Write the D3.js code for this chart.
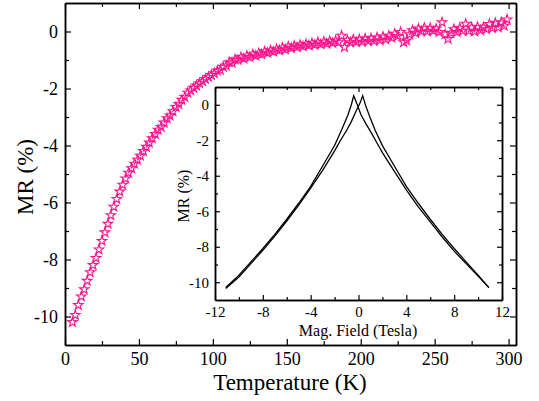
<!DOCTYPE html>
<html>
<head>
<meta charset="utf-8">
<script src="https://cdn.jsdelivr.net/npm/d3@7"></script>
<style>
body { margin: 0; background: #fff; }
</style>
</head>
<body>
<svg id="chart" width="539" height="401"></svg>
<script>
// MR vs temperature (main plot)
var temps = [5, 7, 9, 11, 13, 15, 17, 19, 21, 23, 25, 27, 29, 31, 33, 35, 37, 39, 41, 43,
	45, 47, 49, 51, 53, 55, 57, 59, 61, 63, 65, 67, 69, 71, 73, 75, 77, 79, 81, 83,
	85, 87, 89, 91, 93, 95, 97, 99, 101, 103, 105, 107, 109, 111, 113, 115, 117, 119, 121, 123,
	125, 127, 129, 131, 133, 135, 137, 139, 141, 143, 145, 147, 149, 151, 153, 155, 157, 159, 161, 163,
	165, 167, 169, 171, 173, 175, 177, 179, 181, 183, 185, 187, 189, 191, 193, 195, 197, 199, 201, 203,
	205, 207, 209, 211, 213, 215, 217, 219, 221, 223, 225, 227, 229, 231, 233, 235, 237, 239, 241, 243,
	245, 247, 249, 251, 253, 255, 257, 259, 261, 263, 265, 267, 269, 271, 273, 275, 277, 279, 281, 283,
	285, 287, 289, 291, 293, 295, 297, 299];
var mrTemp = [-10.2, -9.95, -9.6, -9.3, -9.05, -8.75, -8.45, -8.2, -7.95, -7.65, -7.35, -7.05, -6.75, -6.45, -6.15, -5.88, -5.62, -5.38, -5.16, -4.96,
	-4.8, -4.64, -4.5, -4.36, -4.2, -4.05, -3.9, -3.75, -3.6, -3.45, -3.35, -3.2, -3.05, -2.95, -2.8, -2.65, -2.55, -2.4, -2.3, -2.15,
	-2.07, -1.98, -1.9, -1.82, -1.75, -1.67, -1.6, -1.53, -1.47, -1.38, -1.35, -1.24, -1.2, -1.08, -1.1, -0.98, -1.0, -0.9, -0.95, -0.85,
	-0.9, -0.8, -0.85, -0.76, -0.8, -0.7, -0.75, -0.66, -0.71, -0.62, -0.66, -0.57, -0.63, -0.53, -0.58, -0.5, -0.55, -0.47, -0.52, -0.44,
	-0.49, -0.41, -0.47, -0.38, -0.45, -0.36, -0.43, -0.33, -0.4, -0.32, -0.38, -0.15, -0.55, -0.3, -0.38, -0.28, -0.37, -0.27, -0.36, -0.25,
	-0.34, -0.24, -0.33, -0.21, -0.31, -0.18, -0.28, -0.15, -0.22, -0.08, -0.16, -0.02, -0.38, -0.32, -0.1, 0.04, -0.05, 0.1, 0.0, 0.13,
	0.0, 0.12, 0.02, 0.1, -0.02, 0.32, -0.1, -0.26, -0.05, 0.08, -0.02, 0.12, 0.02, 0.27, 0.02, 0.14, 0.0, 0.16, 0.04, 0.15,
	0.08, 0.26, 0.12, 0.3, 0.14, 0.32, 0.2, 0.42];
var tempTicks = [0, 50, 100, 150, 200, 250, 300];
var tempMinor = [25, 75, 125, 175, 225, 275];
var mrTicks = [0, -2, -4, -6, -8, -10];
var mrMinor = [-1, -3, -5, -7, -9];

// MR vs field (inset), two sweep branches
var fieldA = [-11.1, -10, -9, -8, -7, -6, -5, -4, -3, -2, -1.4, -0.9, -0.6, -0.4, -0.1, 0.2, 0.6, 1, 1.5, 2, 3, 4, 5, 6, 7, 8, 9, 10, 10.9];
var mrA = [-10.3, -9.6, -8.85, -8.1, -7.3, -6.45, -5.55, -4.6, -3.45, -2.3, -1.4, -0.6, 0.0, 0.5, 0.0, -0.55, -1.05, -1.5, -2.1, -2.7, -3.75, -4.8, -5.75, -6.6, -7.45, -8.25, -8.95, -9.65, -10.3];
var fieldB = [-11.1, -10, -9, -8, -7, -6, -5, -4, -3, -2, -1.5, -1, -0.6, -0.2, 0.1, 0.35, 0.6, 0.9, 1.4, 2, 3, 4, 5, 6, 7, 8, 9, 10, 10.9];
var mrB = [-10.35, -9.7, -8.95, -8.2, -7.4, -6.55, -5.65, -4.7, -3.7, -2.6, -2.0, -1.45, -0.95, -0.35, 0.05, 0.5, -0.05, -0.6, -1.45, -2.3, -3.45, -4.6, -5.55, -6.45, -7.3, -8.1, -8.85, -9.6, -10.3];
var fieldTicks = [-12, -8, -4, 0, 4, 8, 12];
var fieldMinor = [-10, -6, -2, 2, 6, 10];
var insetTicks = [0, -2, -4, -6, -8, -10];
var insetMinor = [-1, -3, -5, -7, -9];

var serif = "'Liberation Serif', 'Times New Roman', serif";
var svg = d3.select("#chart");

function plain(d) {
	return String(d);
}

function frame(g, x, y, xt, xm, yt, ym, major, minor, fs, padX, padY) {
	var x0 = x.range()[0], x1 = x.range()[1];
	var y0 = y.range()[0], y1 = y.range()[1];

	g.append("g").attr("transform", "translate(0," + y0 + ")")
		.call(d3.axisBottom(x).tickValues(xt).tickSizeInner(-major).tickSizeOuter(0).tickPadding(padX).tickFormat(plain));
	g.append("g").attr("transform", "translate(0," + y0 + ")")
		.call(d3.axisBottom(x).tickValues(xm).tickSizeInner(-minor).tickSizeOuter(0).tickFormat(""));
	g.append("g").attr("transform", "translate(0," + y1 + ")")
		.call(d3.axisTop(x).tickValues(xt).tickSizeInner(-major).tickSizeOuter(0).tickFormat(""));
	g.append("g").attr("transform", "translate(0," + y1 + ")")
		.call(d3.axisTop(x).tickValues(xm).tickSizeInner(-minor).tickSizeOuter(0).tickFormat(""));

	g.append("g").attr("transform", "translate(" + x0 + ",0)")
		.call(d3.axisLeft(y).tickValues(yt).tickSizeInner(-major).tickSizeOuter(0).tickPadding(padY).tickFormat(plain));
	g.append("g").attr("transform", "translate(" + x0 + ",0)")
		.call(d3.axisLeft(y).tickValues(ym).tickSizeInner(-minor).tickSizeOuter(0).tickFormat(""));
	g.append("g").attr("transform", "translate(" + x1 + ",0)")
		.call(d3.axisRight(y).tickValues(yt).tickSizeInner(-major).tickSizeOuter(0).tickFormat(""));
	g.append("g").attr("transform", "translate(" + x1 + ",0)")
		.call(d3.axisRight(y).tickValues(ym).tickSizeInner(-minor).tickSizeOuter(0).tickFormat(""));

	g.selectAll(".domain").attr("stroke", "#000").attr("stroke-width", 1.5);
	g.selectAll(".tick line").attr("stroke", "#000").attr("stroke-width", 1.2);
	g.selectAll(".tick text")
		.style("font-family", serif)
		.style("font-size", fs + "px")
		.attr("fill", "#000");
}

// main plot
var xScale = d3.scaleLinear().domain([0, 305]).range([65, 516]);
var yScale = d3.scaleLinear().domain([-11, 1]).range([345, 3]);

var main = svg.append("g");

main.selectAll("path.star")
	.data(temps)
	.enter()
	.append("path")
	.attr("class", "star")
	.attr("d", d3.symbol().type(d3.symbolStar).size(28))
	.attr("transform", function(d, i) {
		return "translate(" + xScale(d) + "," + yScale(mrTemp[i]) + ")";
	})
	.attr("fill", "none")
	.attr("stroke", "#ff148c")
	.attr("stroke-width", 1.1);

frame(main, xScale, yScale, tempTicks, tempMinor, mrTicks, mrMinor, 6, 4, 18, 7, 7);

main.append("text")
	.attr("x", 290)
	.attr("y", 390)
	.attr("text-anchor", "middle")
	.style("font-family", serif)
	.style("font-size", "23px")
	.text("Temperature (K)");

main.append("text")
	.attr("transform", "translate(33,177) rotate(-90)")
	.attr("text-anchor", "middle")
	.style("font-family", serif)
	.style("font-size", "23px")
	.text("MR (%)");

// inset
var ix = d3.scaleLinear().domain([-12, 12]).range([215, 502]);
var iy = d3.scaleLinear().domain([-11, 1]).range([300, 87]);

var inset = svg.append("g");

inset.append("rect")
	.attr("x", 215)
	.attr("y", 87)
	.attr("width", 287)
	.attr("height", 213)
	.attr("fill", "#fff");

var line = d3.line()
	.x(function(d) { return ix(d[0]); })
	.y(function(d) { return iy(d[1]); });

inset.append("path")
	.datum(d3.zip(fieldA, mrA))
	.attr("d", line)
	.attr("fill", "none")
	.attr("stroke", "#000")
	.attr("stroke-width", 1.3);

inset.append("path")
	.datum(d3.zip(fieldB, mrB))
	.attr("d", line)
	.attr("fill", "none")
	.attr("stroke", "#000")
	.attr("stroke-width", 1.3);

frame(inset, ix, iy, fieldTicks, fieldMinor, insetTicks, insetMinor, 5, 3, 15, 6, 6);

inset.append("text")
	.attr("x", 358)
	.attr("y", 336)
	.attr("text-anchor", "middle")
	.style("font-family", serif)
	.style("font-size", "16px")
	.text("Mag. Field (Tesla)");

inset.append("text")
	.attr("transform", "translate(189,196) rotate(-90)")
	.attr("text-anchor", "middle")
	.style("font-family", serif)
	.style("font-size", "16px")
	.text("MR (%)");
</script>
</body>
</html>
